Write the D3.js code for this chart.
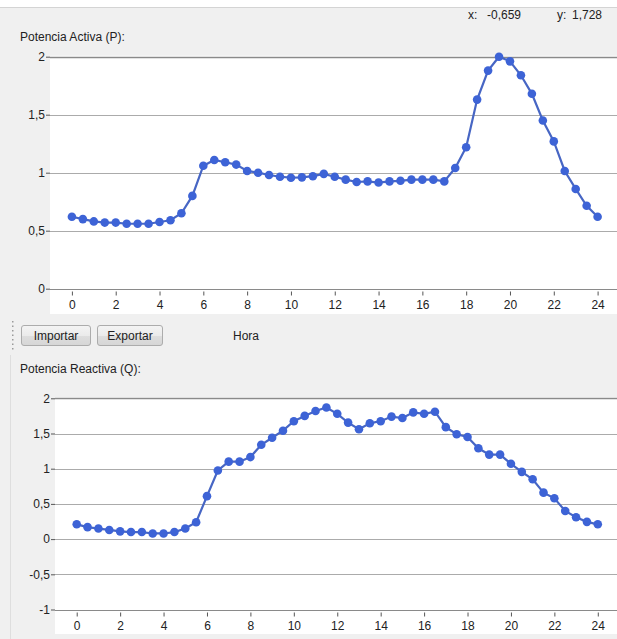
<!DOCTYPE html>
<html><head><meta charset="utf-8">
<script src="https://cdn.jsdelivr.net/npm/d3@7"></script>
<style>html,body{margin:0;padding:0;background:#f0f0f0;overflow:hidden}svg{display:block}</style>
</head><body>
<svg id="c" width="617" height="639"></svg>
<script>
// ---- data ----
const hours = d3.range(0, 24.01, 0.5);
const activeP = [0.62,0.60,0.58,0.57,0.57,0.56,0.56,0.56,0.575,0.59,0.65,0.80,1.06,1.11,1.09,1.07,1.015,1.00,0.98,0.965,0.957,0.96,0.97,0.99,0.965,0.94,0.92,0.925,0.915,0.925,0.93,0.94,0.94,0.94,0.925,1.04,1.22,1.63,1.88,2.00,1.96,1.84,1.68,1.45,1.27,1.015,0.86,0.715,0.62];
const reactiveQ = [0.21,0.17,0.15,0.13,0.11,0.10,0.10,0.08,0.08,0.10,0.15,0.24,0.61,0.975,1.10,1.10,1.165,1.34,1.44,1.54,1.675,1.75,1.82,1.87,1.78,1.655,1.56,1.645,1.675,1.74,1.72,1.80,1.78,1.81,1.59,1.49,1.45,1.29,1.20,1.20,1.07,0.955,0.85,0.66,0.58,0.40,0.31,0.245,0.21];
const xTicks = [0,2,4,6,8,10,12,14,16,18,20,22,24];
const yTicksP = [0,0.5,1,1.5,2];
const yTicksQ = [-1,-0.5,0,0.5,1,1.5,2];
const titleP = "Potencia Activa (P):";
const titleQ = "Potencia Reactiva (Q):";
const xLabel = "Hora";
const buttons = ["Importar","Exportar"];
const readout = {x:"-0,659", y:"1,728"};

const fmt = v => String(v).replace(".", ",");
const FONT = "'Liberation Sans', Arial, sans-serif";
const svg = d3.select("#c");

// top strip
svg.append("rect").attr("x",0).attr("y",0).attr("width",617).attr("height",7).attr("fill","#ffffff");
svg.append("line").attr("x1",0).attr("x2",617).attr("y1",7.5).attr("y2",7.5).attr("stroke","#d4d4d4");

// readout
const ro = svg.append("g").attr("font-family",FONT).attr("font-size",12).attr("fill","#222");
ro.append("text").attr("x",468).attr("y",19).text("x:");
ro.append("text").attr("x",487).attr("y",19).text(readout.x);
ro.append("text").attr("x",557).attr("y",19).text("y:");
ro.append("text").attr("x",572).attr("y",19).text(readout.y);

function chart(cfg){
  const g = svg.append("g");
  const x = d3.scaleLinear().domain([-1,25]).range([cfg.left, 619.5]);
  const y = d3.scaleLinear().domain(cfg.yDomain).range([cfg.bottom, cfg.top]);
  // white area
  g.append("rect").attr("x",cfg.left).attr("y",cfg.top-1).attr("width",617-cfg.left)
    .attr("height",cfg.whiteBottom-cfg.top+1).attr("fill","#ffffff");
  // gridlines
  g.append("g").selectAll("line").data(cfg.yTicks.filter(v=>v!==cfg.yDomain[0])).join("line")
    .attr("x1",cfg.left).attr("x2",617)
    .attr("y1",d=>Math.round(y(d))+0.5).attr("y2",d=>Math.round(y(d))+0.5)
    .attr("stroke",d=>d===cfg.yDomain[1]?"#8a8a8a":"#ababab").attr("stroke-width",d=>d===cfg.yDomain[1]?1.5:1.2);
  // y axis
  const ya = d3.axisLeft(y).tickValues(cfg.yTicks).tickFormat(fmt).tickSize(4).tickPadding(1);
  const yg = g.append("g").attr("transform",`translate(${cfg.left},0)`).call(ya);
  yg.select(".domain").remove();
  yg.selectAll(".tick line").attr("stroke","#555");
  yg.selectAll("text").attr("font-family",FONT).attr("font-size",12).attr("fill","#222");
  // x axis
  const xa = d3.axisBottom(x).tickValues(xTicks).tickSize(0).tickPadding(0).tickFormat(d=>d);
  const xg = g.append("g").attr("transform",`translate(0,${Math.round(cfg.bottom)+0.5})`).call(xa);
  xg.select(".domain").attr("d",`M${cfg.left},0H617`).attr("stroke","#8a8a8a").attr("stroke-width",1.2);
  xg.selectAll(".tick line").attr("y1",2).attr("y2",6).attr("stroke","#555");
  xg.selectAll("text").attr("font-family",FONT).attr("font-size",12).attr("fill","#222").attr("dy","1.05em").attr("y",7);
  // line
  const data = hours.map((h,i)=>({h, v:cfg.values[i]}));
  g.append("path").datum(data)
    .attr("d",d3.line().x(d=>x(d.h)).y(d=>y(d.v)))
    .attr("fill","none").attr("stroke","#4766c4").attr("stroke-width",2.2);
  g.append("g").selectAll("circle").data(data).join("circle")
    .attr("cx",d=>x(d.h)).attr("cy",d=>y(d.v)).attr("r",4.3).attr("fill","#3d63d6");
  // title
  svg.append("text").attr("x",20).attr("y",cfg.titleY).attr("font-family",FONT).attr("font-size",12)
    .attr("fill","#222").text(cfg.title);
}

chart({left:50, top:56.7, bottom:288.7, whiteBottom:314, yDomain:[0,2], yTicks:yTicksP, values:activeP, title:titleP, titleY:41});
chart({left:55, top:398.3, bottom:609.5, whiteBottom:634, yDomain:[-1,2], yTicks:yTicksQ, values:reactiveQ, title:titleQ, titleY:373});

// panel left border
svg.append("line").attr("x1",10.5).attr("x2",10.5).attr("y1",355).attr("y2",639).attr("stroke","#dedede");
// grip
svg.append("g").selectAll("rect").data(d3.range(7)).join("rect")
  .attr("x",12).attr("y",d=>321+d*4.5).attr("width",1.5).attr("height",1.5).attr("fill","#9a9a9a");

// buttons
const defs = svg.append("defs");
const grad = defs.append("linearGradient").attr("id","bg").attr("x1",0).attr("x2",0).attr("y1",0).attr("y2",1);
grad.append("stop").attr("offset","0%").attr("stop-color","#f4f4f4");
grad.append("stop").attr("offset","50%").attr("stop-color","#ebebeb");
grad.append("stop").attr("offset","51%").attr("stop-color","#dedede");
grad.append("stop").attr("offset","100%").attr("stop-color","#d6d6d6");
const btnX = [21, 97], btnW = [69, 65];
buttons.forEach((b,i)=>{
  svg.append("rect").attr("x",btnX[i]+0.5).attr("y",325.5).attr("width",btnW[i]).attr("height",20).attr("rx",2.5)
    .attr("fill","url(#bg)").attr("stroke","#acacac");
  svg.append("text").attr("x",btnX[i]+btnW[i]/2+0.5).attr("y",340).attr("text-anchor","middle")
    .attr("font-family",FONT).attr("font-size",12).attr("fill","#222").text(b);
});
svg.append("text").attr("x",246).attr("y",340).attr("text-anchor","middle")
  .attr("font-family",FONT).attr("font-size",12).attr("fill","#222").text(xLabel);
</script>
</body></html>
